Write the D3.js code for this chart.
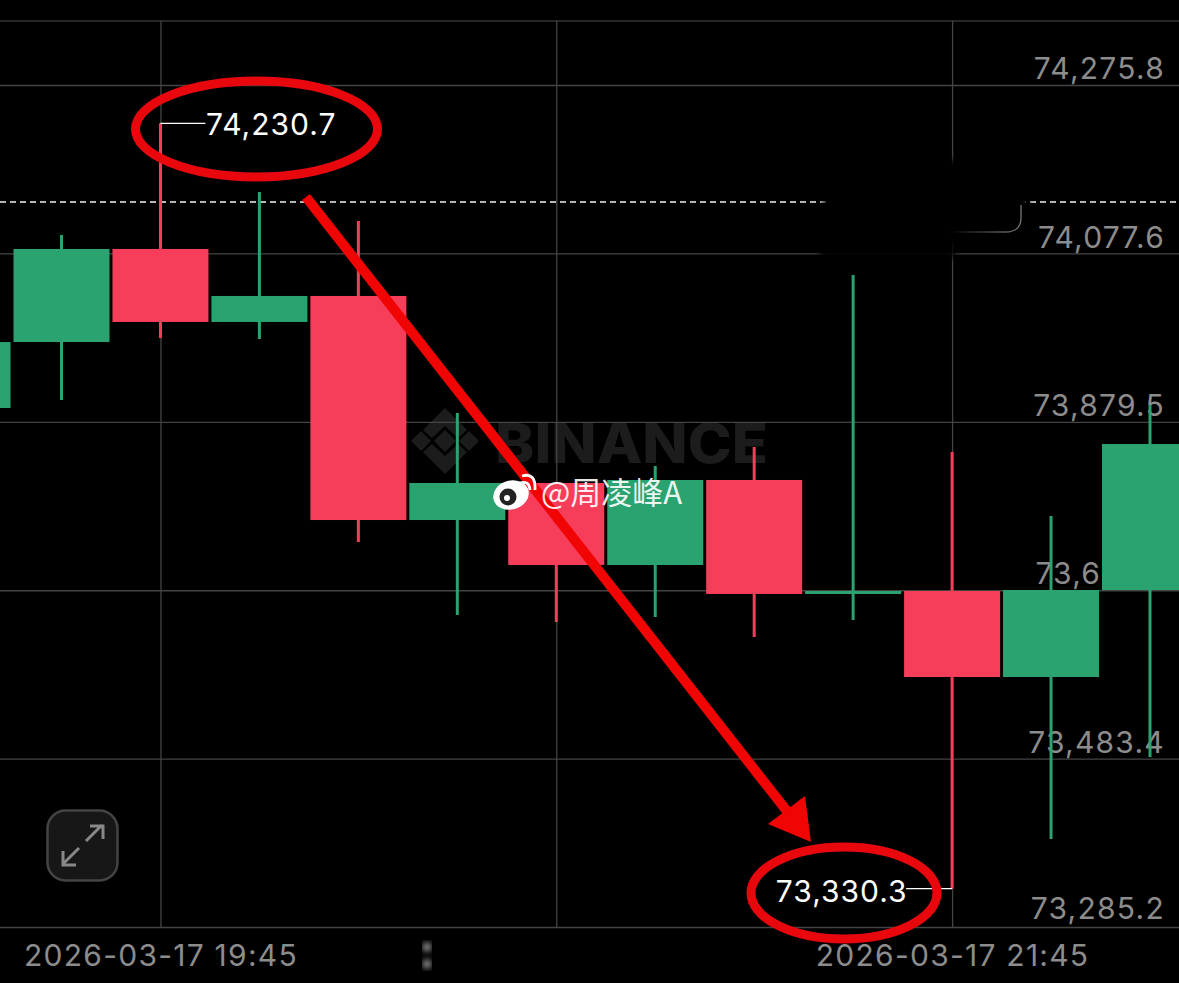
<!DOCTYPE html>
<html lang="en">

<head>
  <meta charset="UTF-8" />
  <title>BTC 15m candles</title>
  <script src="https://d3js.org/d3.v7.min.js"></script>
  <style>
    body {
      margin: 0;
      background: #000;
    }

    svg {
      display: block;
    }

    .axis-label {
      font-family: Inter, Roboto, sans-serif;
      font-size: 30px;
      letter-spacing: 1.25px;
      fill: #8c8c8c;
    }

    .extreme-label {
      font-family: Inter, Roboto, sans-serif;
      font-size: 30px;
      letter-spacing: 1px;
      fill: #fff;
    }
  </style>
</head>

<body>
  <div id="chart"></div>
  <script>
    // 15 minute candles
    const times = ["19:30", "19:45", "20:00", "20:15", "20:30", "20:45", "21:00", "21:15", "21:30", "21:45", "22:00", "22:15"];
    const opens = [73973.4, 74082.9, 73997.0, 74027.6, 73764.0, 73807.6, 73711.1, 73811.1, 73677.0, 73680.5, 73579.3, 73681.7];
    const highs = [74099.3, 74230.7, 74149.9, 74115.8, 73889.9, 73809.0, 73827.6, 73849.9, 74052.3, 73844.0, 73768.7, 73899.3];
    const lows = [73905.2, 73978.2, 73977.0, 73738.2, 73652.3, 73644.0, 73649.9, 73626.4, 73646.4, 73330.3, 73388.7, 73485.2];
    const closes = [74082.9, 73997.0, 74027.6, 73764.0, 73807.6, 73711.1, 73811.1, 73677.0, 73680.5, 73579.3, 73681.7, 73853.4];

    const priceTicks = [74275.8, 74077.6, 73879.5, 73681.4, 73483.4, 73285.2];
    const timeTicks = ["19:45", "20:45", "21:45"];
    const dateLabel = "2026-03-17";
    const lastPrice = 74138.2;

    const width = 1179, height = 983;
    const plotTop = 21, plotBottom = 927;
    const bodyWidth = 96;
    const red = "#f63d5a", green = "#2aa371", markup = "#f00404";

    const x = d3.scalePoint().domain(times).range([61.5, 1150]);
    const y = d3.scaleLinear().domain([priceTicks[5], priceTicks[0]]).range([plotBottom, 85]);
    const fmt = d3.format(",.1f");

    const svg = d3.select("#chart").append("svg")
      .attr("width", width)
      .attr("height", height);

    const defs = svg.append("defs");
    defs.append("filter").attr("id", "soft").append("feGaussianBlur").attr("stdDeviation", 3);
    defs.append("filter").attr("id", "smear").append("feGaussianBlur").attr("stdDeviation", 3.5);
    const fade = defs.append("linearGradient").attr("id", "fade");
    fade.append("stop").attr("offset", "0%").attr("stop-color", "#000");
    fade.append("stop").attr("offset", "70%").attr("stop-color", "#555");
    fade.append("stop").attr("offset", "100%").attr("stop-color", "#777");

    svg.append("rect").attr("width", width).attr("height", height).attr("fill", "#000");

    // Exchange watermark sits under the grid
    const mark = svg.append("g").attr("fill", "#1c1c1c");
    const diamond = (cx, cy, r) => `M${cx},${cy - r}L${cx + r},${cy}L${cx},${cy + r}L${cx - r},${cy}Z`;
    mark.append("path").attr("d", diamond(445, 441, 11));
    mark.append("path").attr("d", diamond(421, 441, 10));
    mark.append("path").attr("d", diamond(469, 441, 10));
    mark.append("path").attr("d", "M445,408L467,430L458,438L445,426L432,438L423,430Z");
    mark.append("path").attr("d", "M445,474L467,452L458,444L445,456L432,444L423,452Z");
    mark.append("text")
      .attr("x", 495).attr("y", 463)
      .attr("textLength", 273)
      .attr("lengthAdjust", "spacingAndGlyphs")
      .attr("font-family", "Inter, sans-serif")
      .attr("font-weight", 800)
      .attr("font-size", 55)
      .text("BINANCE");

    // Price axis: gridlines across the plot, labels sit above their line
    const yAxis = d3.axisRight(y)
      .tickValues(priceTicks)
      .tickSize(width)
      .tickFormat(fmt);

    svg.append("g")
      .call(yAxis)
      .call(g => g.select(".domain").remove())
      .call(g => g.selectAll("line").attr("stroke", "#444").attr("stroke-width", 1.3))
      .call(g => g.selectAll("text")
        .attr("class", "axis-label")
        .attr("x", 1165)
        .attr("dy", d => d === priceTicks[5] ? "-8.5px" : "-6.3px")
        .attr("text-anchor", "end"));

    svg.append("line")
      .attr("x1", 0).attr("x2", width)
      .attr("y1", plotTop).attr("y2", plotTop)
      .attr("stroke", "#333").attr("stroke-width", 1.3);

    // Time axis
    const xAxis = d3.axisBottom(x)
      .tickValues(timeTicks)
      .tickSize(-(plotBottom - plotTop))
      .tickFormat(d => `${dateLabel} ${d}`);

    svg.append("g")
      .attr("transform", `translate(0,${plotBottom})`)
      .call(xAxis)
      .call(g => g.select(".domain").remove())
      .call(g => g.selectAll("line").attr("stroke", "#444").attr("stroke-width", 1.3))
      .call(g => g.selectAll("text")
        .attr("class", "axis-label")
        .attr("y", 0)
        .attr("dy", "39px"))
      // the middle date is smudged out in the source
      .call(g => g.selectAll("text").filter(d => d === "20:45")
        .style("fill", "#101010")
        .attr("filter", "url(#smear)"));

    // Two bright specks left over from the smudge
    svg.append("g").attr("fill", "#bbb").attr("filter", "url(#soft)")
      .selectAll("ellipse")
      .data([947, 964])
      .enter()
      .append("ellipse")
      .attr("cx", 427).attr("cy", d => d)
      .attr("rx", 4).attr("ry", 4);

    // Last price line
    svg.append("line")
      .attr("x1", 0).attr("x2", width)
      .attr("y1", y(lastPrice)).attr("y2", y(lastPrice))
      .attr("stroke", "#f2f2f2")
      .attr("stroke-width", 1.5)
      .attr("stroke-dasharray", "6,4");

    // Black patch that hides a popup in the source
    const patch = svg.append("g").attr("fill", "#000").attr("filter", "url(#soft)");
    patch.append("rect").attr("x", 824).attr("y", 160).attr("width", 204).attr("height", 84);
    patch.append("rect").attr("x", 820).attr("y", 240).attr("width", 135).attr("height", 18);
    svg.append("path")
      .attr("d", "M1021,205V218Q1021,232 1005,232H950")
      .attr("fill", "none")
      .attr("stroke", "url(#fade)")
      .attr("stroke-width", 1.3);

    // Candles, starting with the one cut off at the left edge
    const candles = times.map((t, i) => ({
      t, open: opens[i], high: highs[i], low: lows[i], close: closes[i]
    }));
    const colour = d => d.close >= d.open ? green : red;

    svg.selectAll(".wick")
      .data(candles)
      .enter()
      .append("line")
      .attr("class", "wick")
      .attr("x1", d => x(d.t)).attr("x2", d => x(d.t))
      .attr("y1", d => y(d.high)).attr("y2", d => y(d.low))
      .attr("stroke", colour)
      .attr("stroke-width", 3);

    svg.selectAll(".bar")
      .data(candles)
      .enter()
      .append("rect")
      .attr("class", "bar")
      .attr("x", d => x(d.t) - bodyWidth / 2)
      .attr("width", bodyWidth)
      .attr("y", d => y(Math.max(d.open, d.close)))
      .attr("height", d => Math.max(3, Math.abs(y(d.open) - y(d.close))))
      .attr("fill", colour);

    // Part of the previous candle shows at the left edge
    const step = x.step();
    svg.append("rect")
      .attr("x", x(times[0]) - step - bodyWidth / 2)
      .attr("width", bodyWidth)
      .attr("y", y(opens[0]))
      .attr("height", y(73895.8) - y(opens[0]))
      .attr("fill", green);

    // High and low callouts
    const high = candles[1], low = candles[9];
    svg.append("line")
      .attr("x1", x(high.t)).attr("x2", x(high.t) + 45)
      .attr("y1", y(high.high)).attr("y2", y(high.high))
      .attr("stroke", "#fff").attr("stroke-width", 1.3);
    svg.append("text")
      .attr("class", "extreme-label")
      .attr("x", x(high.t) + 45.5)
      .attr("y", y(high.high) + 12)
      .text(fmt(high.high));
    svg.append("line")
      .attr("x1", x(low.t)).attr("x2", x(low.t) - 46)
      .attr("y1", y(low.low)).attr("y2", y(low.low))
      .attr("stroke", "#fff").attr("stroke-width", 1.3);
    svg.append("text")
      .attr("class", "extreme-label")
      .attr("x", x(low.t) - 44.5)
      .attr("y", y(low.low) + 13)
      .attr("text-anchor", "end")
      .text(fmt(low.low));

    // Hand drawn markup
    svg.append("ellipse")
      .attr("cx", 256.5).attr("cy", 129)
      .attr("rx", 121).attr("ry", 48)
      .attr("fill", "none").attr("stroke", "#e8070c").attr("stroke-width", 9);
    svg.append("ellipse")
      .attr("cx", 844).attr("cy", 893)
      .attr("rx", 93).attr("ry", 46)
      .attr("fill", "none").attr("stroke", "#e8070c").attr("stroke-width", 9);
    svg.append("line")
      .attr("x1", 306).attr("y1", 197).attr("x2", 790).attr("y2", 815)
      .attr("stroke", markup).attr("stroke-width", 10);
    svg.append("path")
      .attr("d", "M811,842L768,824L805,796Z")
      .attr("fill", markup);

    // Expand button
    const btn = svg.append("g");
    btn.append("rect")
      .attr("x", 47.5).attr("y", 810.5).attr("width", 70).attr("height", 70).attr("rx", 18)
      .attr("fill", "#171717").attr("stroke", "#444").attr("stroke-width", 2.5);
    btn.append("path")
      .attr("d", "M86,841L102,825M90,826H103V839M79,848L63,864M63,851V865H76")
      .attr("fill", "none").attr("stroke", "#888").attr("stroke-width", 3);

    // Repost stamp
    const stamp = svg.append("g");
    stamp.append("ellipse").attr("cx", 511).attr("cy", 495).attr("rx", 18).attr("ry", 14.5).attr("fill", "#fff")
      .attr("transform", "rotate(-15,511,495)");
    stamp.append("circle").attr("cx", 508).attr("cy", 497).attr("r", 8.5).attr("fill", "#222");
    stamp.append("circle").attr("cx", 507).attr("cy", 498).attr("r", 3).attr("fill", "#fff");
    stamp.append("path")
      .attr("d", "M520,483Q529,480 530,490M522,476Q536,472 535,490")
      .attr("fill", "none").attr("stroke", "#fff").attr("stroke-width", 2.8);
    stamp.append("text")
      .attr("x", 541).attr("y", 504)
      .attr("font-family", "'Noto Sans CJK SC', sans-serif")
      .attr("font-size", 31)
      .attr("fill", "#fff")
      .attr("fill-opacity", 0.92)
      .text("@周凌峰A");
  </script>
</body>

</html>
